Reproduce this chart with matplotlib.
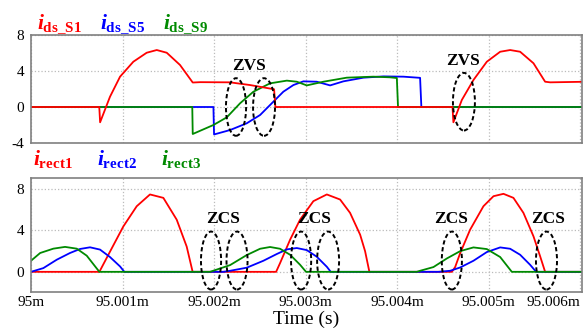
import matplotlib
matplotlib.use("Agg")
import matplotlib.pyplot as plt
from matplotlib.patches import Ellipse

# time axis in microseconds after 95 ms
tick_pos = [0, 1, 2, 3, 4, 5, 6]
tick_labels = ["95m", "95.001m", "95.002m", "95.003m", "95.004m", "95.005m", "95.006m"]

# top panel: switch currents
t_ds_s1 = [0, 0.746, 0.755, 0.863, 0.973, 1.118, 1.264, 1.374, 1.483, 1.628, 1.767,
           1.85, 2.175, 2.393, 2.656, 2.67, 4.605, 4.615, 4.707, 4.834, 4.98, 5.126,
           5.235, 5.344, 5.49, 5.617, 5.672, 6.02]
v_ds_s1 = [0, 0, -1.7, 1.14, 3.37, 5.03, 6.03, 6.33, 6.03, 4.67, 2.72,
           2.76, 2.74, 2.44, 1.97, 0, 0, -1.7, 0.78, 3.0, 5.03, 6.14,
           6.33, 6.14, 4.86, 2.81, 2.74, 2.8]

t_ds_s5 = [0, 1.993, 2.0, 2.175, 2.357, 2.503, 2.648, 2.757, 2.867, 2.976, 3.122,
           3.268, 3.413, 3.632, 3.85, 4.069, 4.251, 4.265, 6.02]
v_ds_s5 = [0, 0, -3.05, -2.56, -1.81, -0.89, 0.59, 1.7, 2.44, 2.85, 2.81,
           2.4, 2.85, 3.26, 3.4, 3.37, 3.24, 0, 0]

t_ds_s9 = [0, 1.762, 1.767, 1.993, 2.139, 2.284, 2.43, 2.612, 2.795, 2.904, 3.013,
           3.195, 3.45, 3.74, 3.92, 3.997, 4.01, 6.02]
v_ds_s9 = [0, 0, -3.0, -2.0, -1.15, 0.41, 1.7, 2.63, 2.93, 2.81, 2.4,
           2.81, 3.26, 3.37, 3.3, 3.22, 0, 0]

# bottom panel: rectifier currents
t_rect1 = [0, 0.747, 0.863, 1.009, 1.155, 1.30, 1.446, 1.592, 1.701, 1.766,
           2.678, 2.721, 2.831, 2.94, 3.085, 3.232, 3.377, 3.486, 3.596, 3.65, 3.697,
           4.598, 4.634, 4.689, 4.798, 4.943, 5.053, 5.162, 5.271, 5.38, 5.49, 5.563, 5.617, 6.02]
v_rect1 = [0, 0, 1.95, 4.39, 6.34, 7.48, 7.15, 5.04, 2.44, 0,
           0, 0.84, 3.11, 5.05, 6.83, 7.48, 6.99, 5.7, 3.59, 2.0, 0,
           0, 0.46, 1.81, 4.08, 6.34, 7.31, 7.54, 7.15, 5.7, 3.43, 1.49, 0, 0]

t_rect2 = [0, 0.135, 0.281, 0.426, 0.536, 0.645, 0.754, 0.863, 0.973, 1.02,
           2.1, 2.175, 2.357, 2.539, 2.685, 2.795, 2.904, 3.013, 3.122, 3.232, 3.275,
           4.45, 4.579, 4.689, 4.834, 4.98, 5.126, 5.235, 5.344, 5.453, 5.519, 6.02]
v_rect2 = [0, 0.36, 1.17, 1.82, 2.21, 2.37, 2.15, 1.43, 0.52, 0,
           0, 0.1, 0.4, 1.07, 1.72, 2.17, 2.3, 2.1, 1.46, 0.49, 0,
           0, 0.1, 0.42, 1.07, 1.91, 2.36, 2.23, 1.65, 0.68, 0, 0]

t_rect3 = [0, 0.1, 0.244, 0.372, 0.5, 0.609, 0.747,
           1.956, 2.175, 2.357, 2.503, 2.612, 2.721, 2.831, 2.94, 3.005,
           4.215, 4.251, 4.397, 4.543, 4.689, 4.834, 4.98, 5.126, 5.253, 6.02]
v_rect3 = [1.07, 1.82, 2.24, 2.41, 2.24, 1.56, 0,
           0, 0.65, 1.62, 2.23, 2.4, 2.23, 1.65, 0.68, 0,
           0, 0.1, 0.46, 1.29, 2.0, 2.36, 2.2, 1.43, 0, 0]

# annotation ellipses (center t, center v, width, height)
zvs_ellipses = [(2.24, 0.0, 0.22, 6.4), (2.546, 0.0, 0.24, 6.4), (4.73, 0.59, 0.24, 6.4)]
zvs_labels = [(2.377, 4.56), (4.716, 5.13)]
zcs_ellipses = [(1.967, 1.09, 0.22, 5.6), (2.251, 1.09, 0.23, 5.6), (2.951, 1.09, 0.22, 5.6),
                (3.246, 1.09, 0.24, 5.6), (4.598, 1.09, 0.22, 5.6), (5.632, 1.09, 0.23, 5.6)]
zcs_labels = [(2.1, 5.15), (3.093, 5.15), (4.588, 5.15), (5.645, 5.15)]

RED = "#ff0000"
BLUE = "#0000ff"
GREEN = "#008a00"

plt.rcParams["font.family"] = ["Liberation Serif", "DejaVu Serif"]
plt.rcParams["mathtext.fontset"] = "custom"
plt.rcParams["mathtext.it"] = "Liberation Serif:italic:bold"
plt.rcParams["mathtext.rm"] = "Liberation Serif:bold"
plt.rcParams["mathtext.bf"] = "Liberation Serif:bold"

W, H = 584, 332
fig = plt.figure(figsize=(W / 100, H / 100), dpi=100)
ax1 = fig.add_axes([31 / W, 1 - 143 / H, 551 / W, 108 / H])
ax2 = fig.add_axes([31 / W, 1 - 292 / H, 551 / W, 114 / H])


def style(ax, yticks, ylim):
    ax.set_xlim(0, 6.02)
    ax.set_ylim(*ylim)
    ax.set_xticks(tick_pos)
    ax.set_yticks(yticks)
    ax.set_yticklabels([str(y) for y in yticks])
    ax.grid(True, color="#bbbbbb", linestyle=":", linewidth=0.9)
    ax.set_axisbelow(True)
    for s in ax.spines.values():
        s.set_color("#808080")
        s.set_linewidth(1.2)
    ax.tick_params(length=0, labelsize=11, pad=5)


style(ax1, [8, 4, 0, -4], (-4, 8))
ax1.set_xticklabels([])
ax1.plot(t_ds_s5, v_ds_s5, color=BLUE, lw=1.3)
ax1.plot(t_ds_s9, v_ds_s9, color=GREEN, lw=1.3)
ax1.plot(t_ds_s1, v_ds_s1, color=RED, lw=1.3)

style(ax2, [0, 4, 8], (-1.95, 9.07))
ax2.set_xticklabels(tick_labels)
ax2.get_xticklabels()[-1].set_horizontalalignment("right")
ax2.get_xticklabels()[-1].set_x(6.02)
ax2.tick_params(axis="x", pad=3)
ax2.plot(t_rect1, v_rect1, color=RED, lw=1.3)
ax2.plot(t_rect2, v_rect2, color=BLUE, lw=1.3)
ax2.plot(t_rect3, v_rect3, color=GREEN, lw=1.3)
ax2.set_xlabel("Time (s)", fontsize=14, labelpad=1)

for cx, cy, w, h in zvs_ellipses:
    ax1.add_patch(Ellipse((cx, cy), w, h, fill=False, edgecolor="black",
                          linestyle=(0, (2.2, 1.4)), linewidth=1.4, zorder=5))
for x, y in zvs_labels:
    ax1.text(x, y, "ZVS", fontsize=12.5, fontweight="bold", ha="center", va="center")
for cx, cy, w, h in zcs_ellipses:
    ax2.add_patch(Ellipse((cx, cy), w, h, fill=False, edgecolor="black",
                          linestyle=(0, (2.2, 1.4)), linewidth=1.4, zorder=5))
for x, y in zcs_labels:
    ax2.text(x, y, "ZCS", fontsize=12.5, fontweight="bold", ha="center", va="center")

# channel labels
fs = 15.5
fig.text(37 / W, 1 - 28 / H, r"$i_{\mathrm{ds\_S1}}$", color=RED, fontsize=fs, va="baseline")
fig.text(100 / W, 1 - 28 / H, r"$i_{\mathrm{ds\_S5}}$", color=BLUE, fontsize=fs, va="baseline")
fig.text(163 / W, 1 - 28 / H, r"$i_{\mathrm{ds\_S9}}$", color=GREEN, fontsize=fs, va="baseline")
fig.text(33 / W, 1 - 165 / H, r"$i_{\mathrm{rect1}}$", color=RED, fontsize=fs, va="baseline")
fig.text(97 / W, 1 - 165 / H, r"$i_{\mathrm{rect2}}$", color=BLUE, fontsize=fs, va="baseline")
fig.text(161 / W, 1 - 165 / H, r"$i_{\mathrm{rect3}}$", color=GREEN, fontsize=fs, va="baseline")

fig.savefig("out.png", dpi=100)
